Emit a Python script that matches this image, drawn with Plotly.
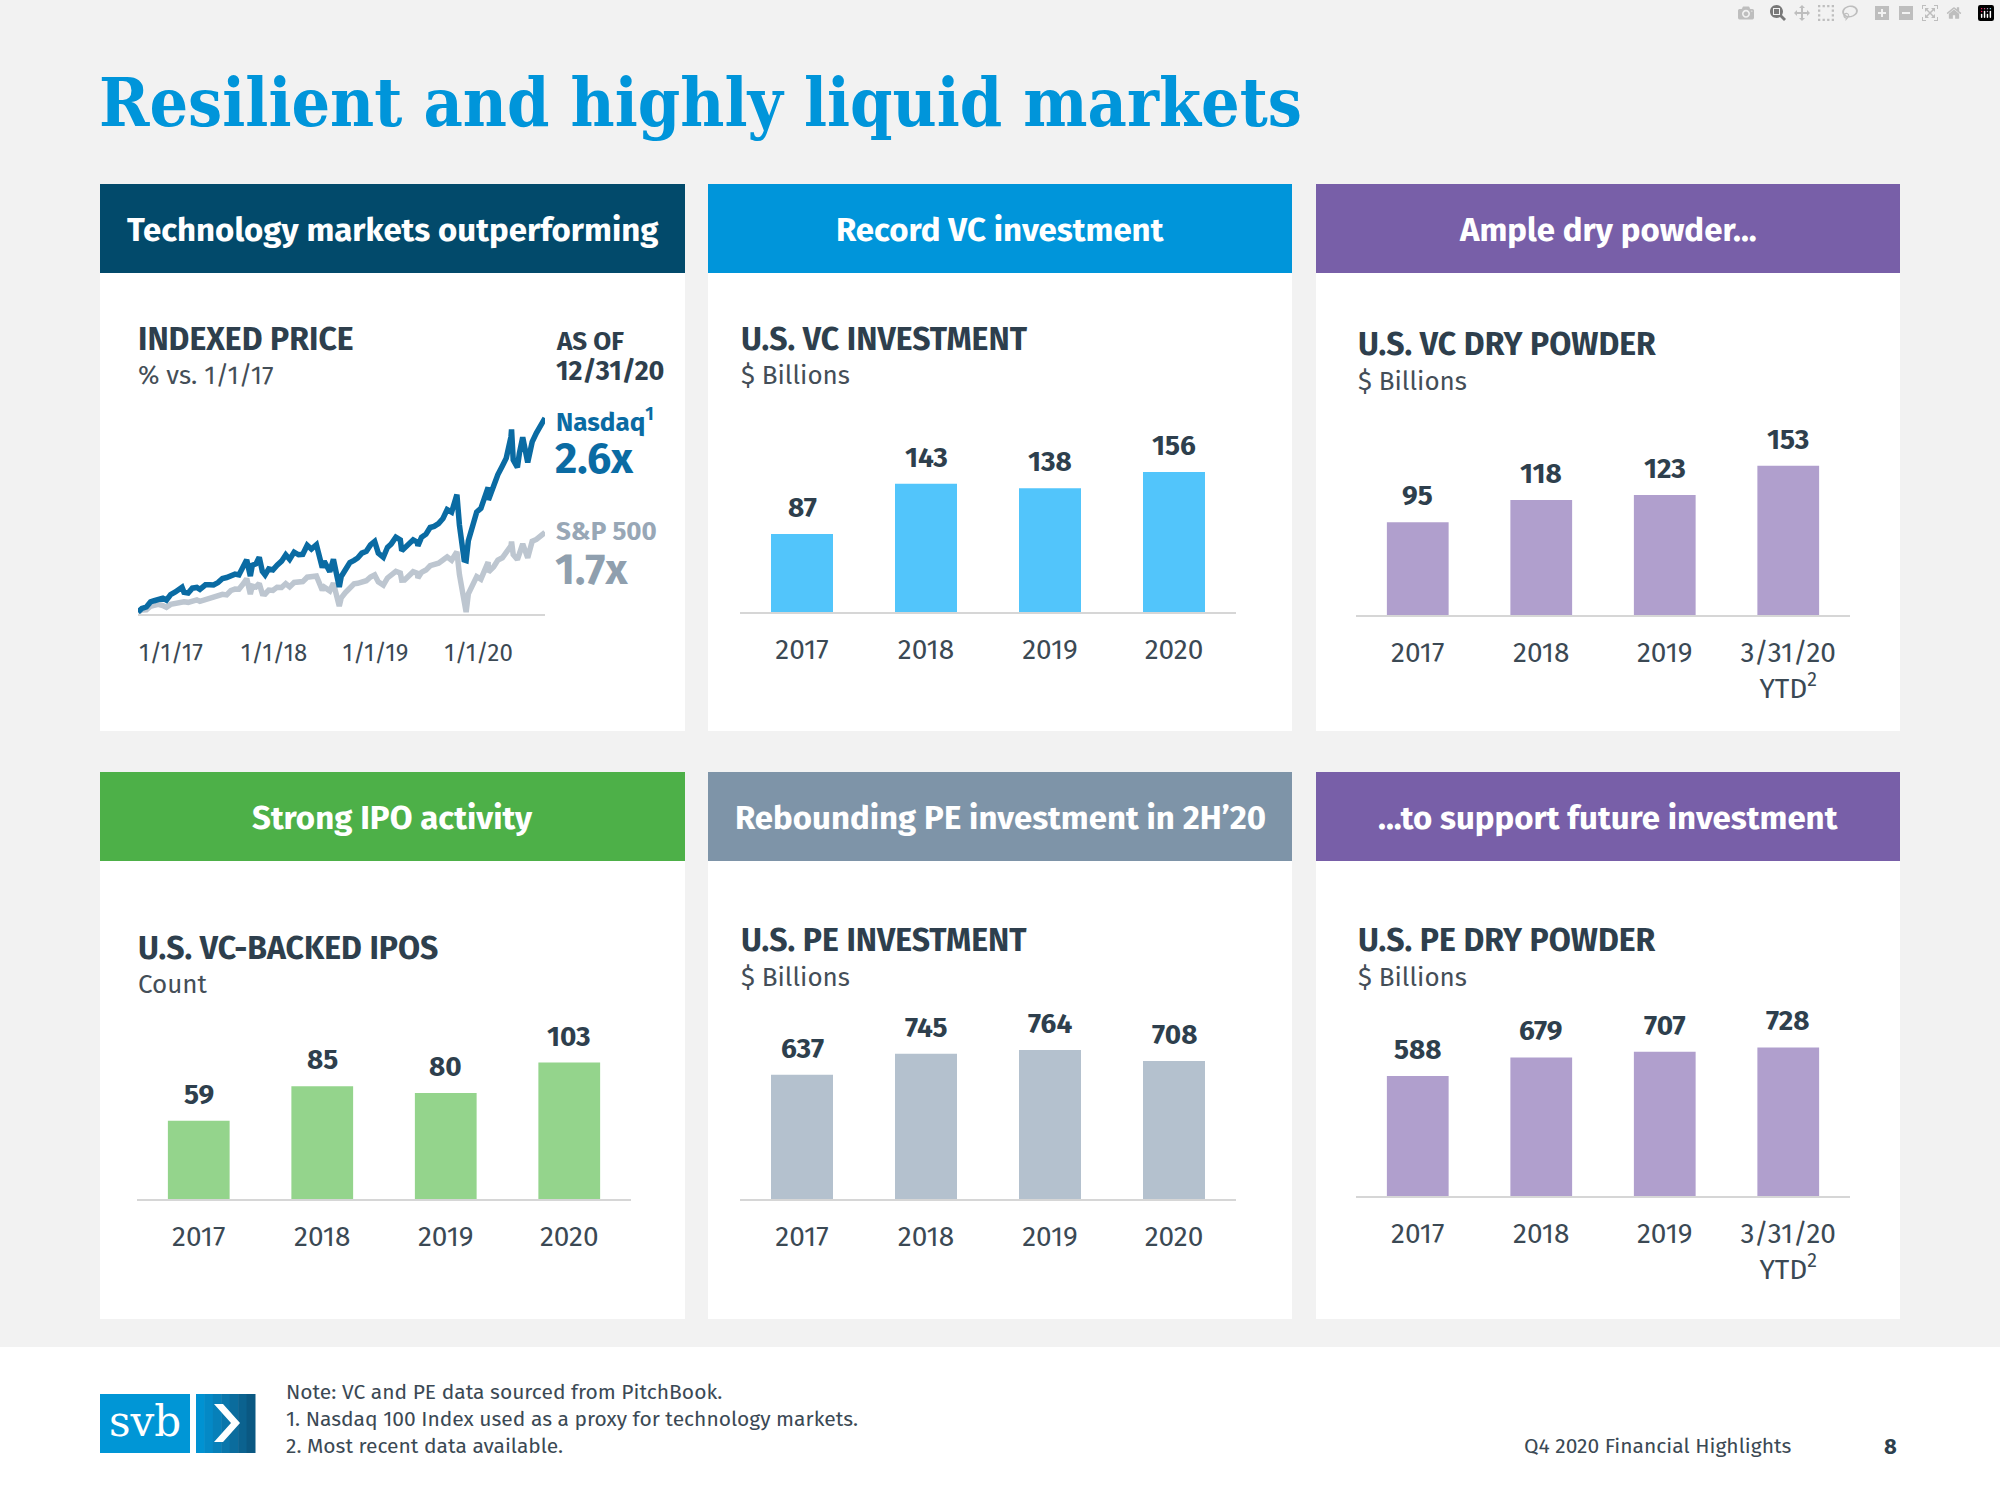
import plotly.graph_objects as go

W, H = 2000, 1500

# ---------------- data ----------------
idx_dates = [
    "2017-01-01", "2017-01-15", "2017-01-31", "2017-02-15", "2017-02-28", "2017-03-15", "2017-03-31",
    "2017-04-13", "2017-04-28", "2017-05-15", "2017-05-31", "2017-06-08", "2017-06-15", "2017-06-30",
    "2017-07-15", "2017-07-31", "2017-08-11", "2017-08-31", "2017-09-15", "2017-09-29", "2017-10-15",
    "2017-10-31", "2017-11-15", "2017-11-30", "2017-12-15", "2017-12-29", "2018-01-15", "2018-01-26",
    "2018-02-08", "2018-02-15", "2018-02-28", "2018-03-12", "2018-03-23", "2018-04-02", "2018-04-15",
    "2018-04-30", "2018-05-15", "2018-05-31", "2018-06-15", "2018-06-29", "2018-07-15", "2018-07-31",
    "2018-08-15", "2018-08-31", "2018-09-15", "2018-09-28", "2018-10-03", "2018-10-24", "2018-10-31",
    "2018-11-20", "2018-11-30", "2018-12-03", "2018-12-24", "2018-12-31", "2019-01-15", "2019-01-31",
    "2019-02-15", "2019-02-28", "2019-03-15", "2019-03-31", "2019-04-15", "2019-04-30", "2019-05-13",
    "2019-05-31", "2019-06-15", "2019-06-28", "2019-07-15", "2019-07-31", "2019-08-05", "2019-08-15",
    "2019-08-30", "2019-09-15", "2019-09-30", "2019-10-02", "2019-10-15", "2019-10-31", "2019-11-15",
    "2019-11-29", "2019-12-15", "2019-12-31", "2020-01-15", "2020-01-31", "2020-02-19", "2020-02-28",
    "2020-03-16", "2020-03-23", "2020-03-31", "2020-04-15", "2020-04-30", "2020-05-15", "2020-05-29",
    "2020-06-10", "2020-06-11", "2020-06-30", "2020-07-15", "2020-07-31", "2020-08-14", "2020-08-31",
    "2020-09-02", "2020-09-08", "2020-09-23", "2020-09-30", "2020-10-12", "2020-10-30", "2020-11-15",
    "2020-11-30", "2020-12-15", "2020-12-31",
]
nasdaq_level = [
    4864, 5010, 5071, 5280, 5330, 5400, 5436,
    5350, 5584, 5690, 5788, 5890, 5680, 5647,
    5850, 5880, 5800, 5988, 5990, 5980, 6080,
    6249, 6290, 6367, 6430, 6397, 6760, 7022,
    6350, 6800, 6855, 7130, 6550, 6400, 6650,
    6605, 6800, 6967, 7230, 7040, 7340, 7232,
    7250, 7625, 7470, 7628, 7650, 6700, 6967,
    6530, 6949, 7040, 5900, 6330, 6610, 6906,
    7000, 7097, 7300, 7378, 7640, 7781, 7300,
    7128, 7540, 7671, 7960, 7848, 7400, 7500,
    7692, 7850, 7750, 7600, 7950, 8084, 8360,
    8404, 8520, 8733, 9100, 8992, 9718, 8462,
    7020, 6994, 7813, 8400, 9000, 9150, 9555,
    10020, 9500, 10157, 10550, 10905, 11230, 12111,
    12420, 11150, 10850, 11418, 12090, 11052, 11900,
    12268, 12600, 12888,
]
sp500_level = [
    2239, 2275, 2279, 2349, 2364, 2385, 2363,
    2329, 2384, 2402, 2412, 2434, 2432, 2423,
    2459, 2470, 2441, 2472, 2500, 2519, 2553,
    2575, 2565, 2648, 2675, 2674, 2786, 2873,
    2581, 2731, 2714, 2783, 2588, 2582, 2656,
    2648, 2711, 2705, 2780, 2718, 2801, 2816,
    2818, 2902, 2905, 2914, 2926, 2656, 2712,
    2641, 2760, 2790, 2351, 2507, 2610, 2704,
    2776, 2785, 2822, 2834, 2905, 2946, 2812,
    2752, 2887, 2942, 3014, 2980, 2845, 2848,
    2927, 3007, 2977, 2888, 2995, 3038, 3120,
    3141, 3169, 3231, 3289, 3226, 3386, 2954,
    2386, 2237, 2585, 2783, 2912, 2864, 3044,
    3190, 3002, 3100, 3227, 3271, 3373, 3500,
    3581, 3332, 3237, 3363, 3535, 3270, 3585,
    3622, 3695, 3756,
]
idx_ticks = ["2017-01-01", "2018-01-01", "2019-01-01", "2020-01-01"]
idx_ticktext = ["1/1/17", "1/1/18", "1/1/19", "1/1/20"]

years = ["2017", "2018", "2019", "2020"]
dry_cats = ["2017", "2018", "2019", "3/31/20<br>YTD<sup>2</sup>"]
vc_investment = [87, 143, 138, 156]
vc_dry_powder = [95, 118, 123, 153]
vc_ipos = [59, 85, 80, 103]
pe_investment = [637, 745, 764, 708]
pe_dry_powder = [588, 679, 707, 728]

# ---------------- style ----------------
FONT = "Fira Sans, Roboto, sans-serif"
TITLE_FONT = "DejaVu Serif Condensed, DejaVu Serif, serif"
DARK = "#2e3f4d"
TICK = "#3b4954"
BG = "#f2f2f2"
AXIS = "#d6d6d6"


def px(x):
    return x / W


def py(y):
    return 1 - y / H


shapes = []
annotations = []


def rect(x0, y0, x1, y1, color):
    shapes.append(dict(type="rect", xref="paper", yref="paper", x0=px(x0), x1=px(x1),
                       y0=py(y1), y1=py(y0), fillcolor=color, line=dict(width=0), layer="below"))


def text(x, y, s, size, color, bold=False, xanchor="left", yanchor="middle", family=FONT):
    annotations.append(dict(x=px(x), y=py(y), xref="paper", yref="paper", text=s, showarrow=False,
                            xanchor=xanchor, yanchor=yanchor,
                            font=dict(size=size, color=color, family=family,
                                      weight="bold" if bold else "normal")))


fig = go.Figure()
layout = {}

# ---------------- panels ----------------
cols = [(100, 685), (708, 1292), (1316, 1900)]
rows = [(184, 273, 731), (772, 861, 1319)]
headers = [
    ["Technology markets outperforming", "Record VC investment", "Ample dry powder..."],
    ["Strong IPO activity", "Rebounding PE investment in 2H\u201920", "...to support future investment"],
]
header_colors = [["#024a6b", "#0095da", "#785fa8"], ["#4db048", "#7e94a8", "#785fa8"]]
for r, (h0, h1, b1) in enumerate(rows):
    for c, (x0, x1) in enumerate(cols):
        rect(x0, h0, x1, h1, header_colors[r][c])
        rect(x0, h1, x1, b1, "#ffffff")
        text((x0 + x1) / 2, (h0 + h1) / 2 + 1, headers[r][c], 33, "#ffffff", bold=True, xanchor="center")

# footer band
rect(0, 1347, 2000, 1500, "#ffffff")

# ---------------- title ----------------
text(97, 102, "Resilient and highly liquid markets", 67.5, "#0095da", bold=True, family=TITLE_FONT)

# ---------------- panel 1: indexed price ----------------
nasdaq_idx = [v / nasdaq_level[0] for v in nasdaq_level]
sp500_idx = [v / sp500_level[0] for v in sp500_level]
fig.add_trace(go.Scatter(x=idx_dates, y=sp500_idx, mode="lines", line=dict(color="#bdc6d0", width=5.5),
                         xaxis="x", yaxis="y", hoverinfo="skip"))
fig.add_trace(go.Scatter(x=idx_dates, y=nasdaq_idx, mode="lines", line=dict(color="#0a6ba3", width=5.5),
                         xaxis="x", yaxis="y", hoverinfo="skip"))
layout["xaxis"] = dict(domain=[px(138), px(545)], anchor="y", type="date",
                       range=["2017-01-01", "2020-12-31"], tickvals=idx_ticks, ticktext=idx_ticktext,
                       ticklabelposition="outside right", ticklabelstandoff=16,
                       showline=True, linecolor=AXIS, linewidth=2,
                       showgrid=False, zeroline=False, ticks="",
                       tickfont=dict(size=24, color=TICK, family=FONT))
layout["yaxis"] = dict(domain=[py(614), py(400)], anchor="x", range=[0.983, 2.803], visible=False)

text(136, 339, "INDEXED PRICE", 32, DARK, bold=True)
text(136, 376, "% vs. 1/1/17", 26, "#444e57")
text(554, 342, "AS OF", 26, DARK, bold=True)
text(554, 371, "12/31/20", 27, DARK, bold=True)
text(554, 420, "Nasdaq<sup>1</sup>", 26, "#0a6ba3", bold=True)
text(553, 458, "2.6x", 43, "#0a6ba3", bold=True)
text(554, 531, "S&P 500", 26, "#98a7b6", bold=True)
text(553, 569, "1.7x", 43, "#8f9fae", bold=True)


# ---------------- bar panels ----------------
def bar_panel(i, cats, vals, color, x0, x1, y_base, y_top, ymax, title, sub, tx, ty):
    xa, ya = f"x{i}", f"y{i}"
    fig.add_trace(go.Bar(x=cats, y=vals, marker=dict(color=color, line=dict(width=0)), width=0.5,
                         xaxis=xa, yaxis=ya, hoverinfo="skip"))
    layout[f"xaxis{i}"] = dict(domain=[px(x0), px(x1)], anchor=ya, type="category", range=[-0.5, 3.5],
                               showline=True, linecolor=AXIS, linewidth=2, showgrid=False,
                               ticks="outside", ticklen=11, tickcolor="rgba(0,0,0,0)",
                               tickfont=dict(size=28, color=TICK, family=FONT))
    layout[f"yaxis{i}"] = dict(domain=[py(y_base), py(y_top)], anchor=xa, range=[0, ymax], visible=False)
    for k, v in enumerate(vals):
        annotations.append(dict(x=k, y=v, xref=xa, yref=ya, text=str(v), showarrow=False,
                                yanchor="bottom", yshift=8,
                                font=dict(size=28, color=DARK, family=FONT, weight="bold")))
    text(tx, ty, title, 32, DARK, bold=True)
    text(tx, ty + 37, sub, 26, "#444e57")


bar_panel(2, years, vc_investment, "#52c5fb", 740, 1236, 612, 430, 182 / 0.897,
          "U.S. VC INVESTMENT", "$ Billions", 739, 339)
bar_panel(3, dry_cats, vc_dry_powder, "#b09fcd", 1356, 1850, 615, 430, 185 / 0.975,
          "U.S. VC DRY POWDER", "$ Billions", 1356, 344)
bar_panel(4, years, vc_ipos, "#94d48c", 137, 631, 1199, 1020, 179 / 1.325,
          "U.S. VC-BACKED IPOS", "Count", 136, 948)
bar_panel(5, years, pe_investment, "#b4c1ce", 740, 1236, 1199, 1020, 179 / 0.195,
          "U.S. PE INVESTMENT", "$ Billions", 739, 940)
bar_panel(6, dry_cats, pe_dry_powder, "#b09fcd", 1356, 1850, 1196, 1020, 176 / 0.204,
          "U.S. PE DRY POWDER", "$ Billions", 1356, 940)

# ---------------- footer ----------------
# svb logo
rect(100, 1394, 190, 1453, "#0096d6")
grad = ["#0092d2", "#0489c6", "#0780b9", "#0a76ab", "#0b6c9d", "#0b628f", "#0a5882"]
gx = [196 + k * (59 / len(grad)) for k in range(len(grad) + 1)]
for k, col in enumerate(grad):
    rect(gx[k], 1394, gx[k + 1] + 0.5, 1453, col)
chev = [(214, 1404), (223, 1404), (240, 1423), (223, 1442), (214, 1442), (231, 1423)]
path = "M " + " L ".join(f"{px(a):.5f},{py(b):.5f}" for a, b in chev) + " Z"
shapes.append(dict(type="path", xref="paper", yref="paper", path=path, fillcolor="#ffffff",
                   line=dict(width=0)))
text(145, 1421, "svb", 42, "#ffffff", xanchor="center", family="DejaVu Serif, serif")

text(284, 1392, "Note: VC and PE data sourced from PitchBook.", 21, TICK)
text(284, 1419, "1. Nasdaq 100 Index used as a proxy for technology markets.", 21, TICK)
text(284, 1446, "2. Most recent data available.", 21, TICK)
text(1522, 1446, "Q4 2020 Financial Highlights", 21, TICK)
text(1899, 1446, "8", 22, DARK, bold=True, xanchor="right")

fig.update_layout(
    width=W, height=H, margin=dict(l=0, r=0, t=0, b=0),
    paper_bgcolor=BG, plot_bgcolor="rgba(0,0,0,0)",
    showlegend=False, shapes=shapes, annotations=annotations, **layout,
)

fig.write_html("out.html", post_script="document.body.style.margin='0';")
